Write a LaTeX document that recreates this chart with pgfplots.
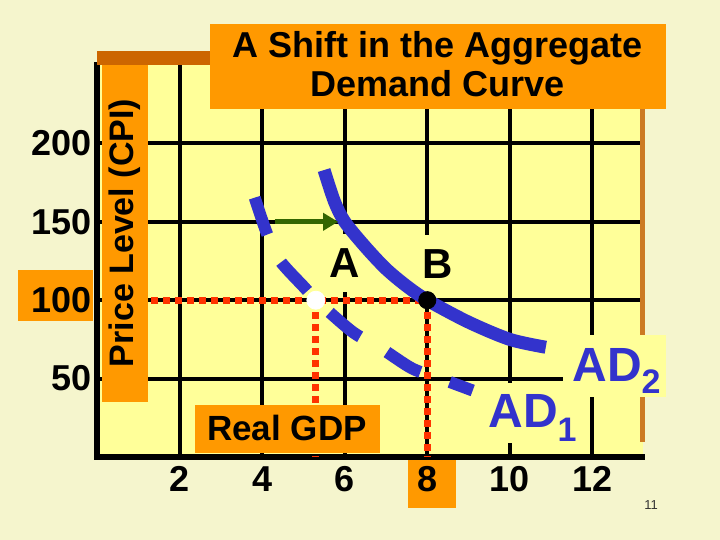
\documentclass[border=0pt]{standalone}
\usepackage{pgfplots}
\pgfplotsset{compat=1.18}
\usepackage{fontspec}
\setmainfont{Liberation Sans}
\usetikzlibrary{arrows.meta}
\definecolor{bgc}{RGB}{245,245,205}
\definecolor{plotbg}{RGB}{255,255,153}
\definecolor{orng}{RGB}{255,153,0}
\definecolor{brn}{RGB}{204,102,0}
\definecolor{rbrd}{RGB}{204,122,34}
\definecolor{adblue}{RGB}{51,51,204}
\definecolor{redd}{RGB}{255,51,0}
\definecolor{grn}{RGB}{51,102,0}
\begin{document}
\begin{tikzpicture}
\begin{scope}[x=0.5pt,y=-0.5pt]
\fill[bgc] (0,0) rectangle (720,540);
\fill[plotbg] (97,65) rectangle (643,457);
\fill[orng] (18,270) rectangle (93,321);
\fill[orng] (408,460) rectangle (456,508);
\end{scope}
\begin{axis}[at={(48.5pt,-228.5pt)}, anchor=south west, scale only axis,
  width=272.5pt, height=196pt, xmin=0, xmax=13.2, ymin=0, ymax=250,
  axis x line*=bottom, axis y line*=left,
  axis line style={line width=3pt, -, line cap=rect},
  xtick={2,4,...,12}, ytick={50,100,150,200}, major tick length=0pt,
  grid=major, major grid style={black, line width=2pt},
  tick label style={font=\fontsize{18}{18}\selectfont\bfseries},
  /pgf/number format/assume math mode=true,
  yticklabel style={anchor=east, inner sep=0pt, xshift=-2.5pt},
  xticklabel style={anchor=north, inner sep=0pt, yshift=-4.5pt},
  clip=false]
\addplot[redd, line width=3.5pt, dash pattern=on 3.5pt off 2.5pt] coordinates {(1.3,100) (8,100)};
\addplot[redd, line width=3.5pt, dash pattern=on 3.5pt off 2.5pt] coordinates {(5.3,100) (5.3,0)};
\addplot[redd, line width=3.5pt, dash pattern=on 3.5pt off 2.5pt] coordinates {(8,100) (8,0)};
\node[fill=plotbg, minimum width=22pt, minimum height=29pt, inner sep=0pt, font=\fontsize{21}{21}\selectfont\bfseries] at (axis cs:6.0,123.5) {A};
\node[fill=plotbg, minimum width=22pt, minimum height=29pt, inner sep=0pt, font=\fontsize{21}{21}\selectfont\bfseries] at (axis cs:8.26,123) {B};
\addplot[adblue, line width=6.5pt, smooth] coordinates {(5.5,183) (5.75,163) (6,150) (6.5,134) (7,120) (7.5,109) (8,100) (9,86) (10,75) (10.87,70)};
\addplot[adblue, line width=6pt, smooth, dash pattern=on 19.5pt off 15.5pt] coordinates {(3.82,165.4) (4.11,142.9) (4.41,125.9) (5.02,108.2) (5.3,100) (5.55,94.2) (6.22,79.2) (6.87,69.5) (7.63,56.5) (8.26,50.6) (9.10,42.4)};
\addplot[grn, line width=2.5pt, -{Triangle[length=7.5pt,width=8.5pt]}] coordinates {(4.3,150) (5.84,150)};
\addplot[only marks, mark=*, mark size=4.5pt, mark options={draw=white, fill=white}] coordinates {(5.3,100)};
\addplot[only marks, mark=*, mark size=4.3pt, mark options={draw=black, fill=black}] coordinates {(8,100)};
\end{axis}
\begin{scope}[x=0.5pt,y=-0.5pt]
\fill[brn] (97,51) rectangle (660,65);
\draw[rbrd, line width=2.5pt] (643,109) -- (643,442);
\fill[orng] (210,24) rectangle (666,109);
\node[anchor=base, inner sep=0pt, font=\fontsize{18}{18}\selectfont\bfseries] at (438,58) {A Shift in the Aggregate};
\node[anchor=base, inner sep=0pt, font=\fontsize{18}{18}\selectfont\bfseries] at (438,97) {Demand Curve};
\fill[orng] (102,65) rectangle (148,402);
\node[rotate=90, inner sep=0pt, font=\fontsize{17}{17}\selectfont\bfseries] at (125,233) {Price Level (CPI)};
\fill[orng] (195,405) rectangle (380,453);
\node[inner sep=0pt, font=\fontsize{17.5}{17.5}\selectfont\bfseries] at (287,428) {Real GDP};
\fill[plotbg] (563,335) rectangle (666,397);
\node[anchor=base west, inner sep=0pt, text=adblue, font=\fontsize{24}{24}\selectfont\bfseries] at (572,382) {AD{\fontsize{17}{17}\selectfont\raisebox{-6pt}{2}}};
\fill[plotbg] (484,383) rectangle (577,443);
\node[anchor=base west, inner sep=0pt, text=adblue, font=\fontsize{24}{24}\selectfont\bfseries] at (488,428) {AD{\fontsize{17}{17}\selectfont\raisebox{-7pt}{1}}};
\node[inner sep=0pt, text=black!80, font=\fontsize{6.5}{6.5}\selectfont] at (651,505) {11};
\end{scope}
\end{tikzpicture}
\end{document}
